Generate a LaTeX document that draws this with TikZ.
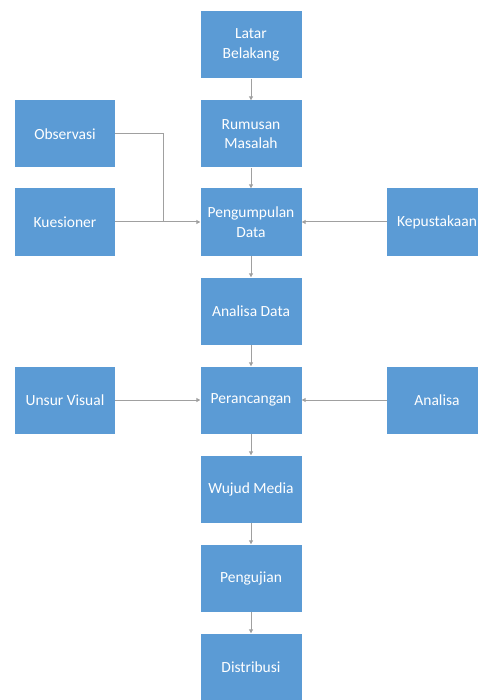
\documentclass[tikz,border=0pt]{standalone}
\usepackage{fontspec}
\setmainfont{Carlito}
\usetikzlibrary{arrows.meta}
\definecolor{boxblue}{HTML}{5B9BD5}
\definecolor{linegray}{HTML}{A0A0A0}
\begin{document}
\begin{tikzpicture}[x=1pt,y=-1pt,
  blk/.style={fill=boxblue, draw=none, minimum width=101pt, minimum height=67pt, inner sep=2pt,
    text=white, align=center, font=\fontsize{15.5}{19.5}\selectfont},
  conn/.style={draw=linegray, line width=1pt, -{Triangle[length=4pt,width=4pt]}}]
\useasboundingbox (0,0) rectangle (478,700);
\node[blk] (latar) at (251,45) {Latar\\Belakang};
\node[blk] (rumusan) at (251,134) {Rumusan\\Masalah};
\node[blk] (pengumpulan) at (251,222) {Pengumpulan\\Data};
\node[blk] (analisadata) at (251,311) {Analisa Data};
\node[blk] (perancangan) at (251,400) {Perancangan};
\node[blk] (wujud) at (251,489) {Wujud Media};
\node[blk] (pengujian) at (251,578) {Pengujian};
\node[blk] (distribusi) at (251,667) {Distribusi};
\node[blk, minimum width=100pt] (observasi) at (65,134) {Observasi};
\node[blk, minimum width=100pt] (kuesioner) at (65,222) {Kuesioner};
\node[blk, minimum width=100pt] (kepustakaan) at (437,222) {Kepustakaan};
\node[blk, minimum width=100pt] (unsur) at (65,400) {Unsur Visual};
\node[blk, minimum width=100pt] (analisa) at (437,400) {Analisa};
\coordinate (join) at (163,222);
\draw[conn] (latar) -- (rumusan);
\draw[conn] (rumusan) -- (pengumpulan);
\draw[conn] (pengumpulan) -- (analisadata);
\draw[conn] (analisadata) -- (perancangan);
\draw[conn] (perancangan) -- (wujud);
\draw[conn] (wujud) -- (pengujian);
\draw[conn] (pengujian) -- (distribusi);
\draw[conn] (kuesioner) -- (pengumpulan);
\draw[draw=linegray, line width=1pt] (observasi.east) -| (join);
\draw[conn] (kepustakaan) -- (pengumpulan);
\draw[conn] (unsur) -- (perancangan);
\draw[conn] (analisa) -- (perancangan);
\end{tikzpicture}
\end{document}
